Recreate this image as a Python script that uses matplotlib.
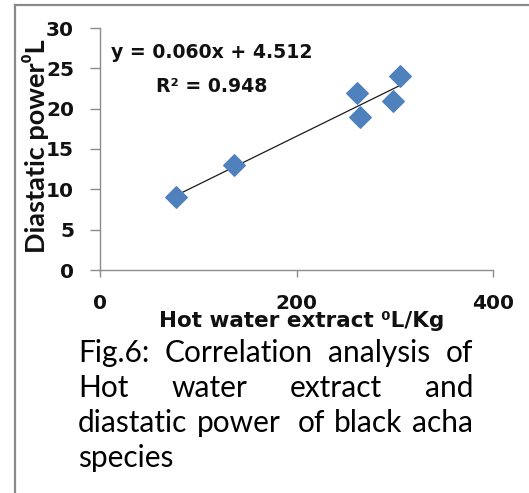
import re
import numpy as np
import matplotlib
matplotlib.use("Agg")
import matplotlib.pyplot as plt
from matplotlib.lines import Line2D

# data
hot_water_extract = [77, 136, 262, 265, 298, 305]
diastatic_power = [9, 13, 22, 19, 21, 24]
x_ticks = [0, 200, 400]
y_ticks = [0, 5, 10, 15, 20, 25, 30]
equation_text = "y = 0.060x + 4.512"
r2_text = "R\u00b2 = 0.948"
x_label = "Hot water extract \u2070L/Kg"
y_label = "Diastatic power\u2070L"
caption_lines = ["Fig.6: Correlation analysis of",
                 "Hot water extract and",
                 "diastatic power  of black acha",
                 "species"]

W, H = 529, 493
fig = plt.figure(figsize=(W / 100, H / 100), dpi=100)
fig.patch.set_facecolor("white")
PT = 72 / 100  # points per pixel

def fx(px):
    return px / W

def fy(py):
    return 1 - py / H

ax = fig.add_axes([fx(100), fy(270), fx(493) - fx(100), fy(28) - fy(270)])
ax.set_xlim(0, 400)
ax.set_ylim(0, 30)
ax.set_xticks(x_ticks)
ax.set_yticks(y_ticks)
for s in ["top", "right"]:
    ax.spines[s].set_visible(False)
for s in ["left", "bottom"]:
    ax.spines[s].set_color("#8c8c8c")
    ax.spines[s].set_linewidth(1.0)
ax.tick_params(axis="y", direction="out", length=10 * PT, width=1.0, color="#8c8c8c",
               pad=16 * PT, labelsize=14.5, labelcolor="#111111")
ax.tick_params(axis="x", direction="out", length=7 * PT, width=1.0, color="#8c8c8c",
               pad=17 * PT, labelsize=14.5, labelcolor="#111111")
for lab in ax.get_xticklabels() + ax.get_yticklabels():
    lab.set_fontfamily("DejaVu Sans")
    lab.set_fontweight("bold")

xs = np.array(hot_water_extract, dtype=float)
ys = np.array(diastatic_power, dtype=float)
coef = np.polyfit(xs, ys, 1)
xl = np.array([xs.min(), xs.max()])
ax.plot(xl, np.polyval(coef, xl), color="#1a1a1a", lw=0.9, zorder=2)
ax.scatter(xs, ys, marker="D", s=120, color="#4F81BD", edgecolors="#4F81BD", zorder=3, clip_on=False)

# equation texts
fig.text(fx(212), fy(53), equation_text, ha="center", va="center", fontsize=13.6,
         fontweight="bold", family="DejaVu Sans", color="#111111")
fig.text(fx(212), fy(86), r2_text, ha="center", va="center", fontsize=13.6,
         fontweight="bold", family="DejaVu Sans", color="#111111")

# axis labels
fig.text(fx(45), fy(146.5), y_label, rotation=90, rotation_mode="anchor",
         ha="center", va="baseline", fontsize=19.5,
         fontweight="bold", family=["Lato", "DejaVu Sans"], color="#111111")
fig.text(fx(302), fy(327), x_label, ha="center", va="baseline", fontsize=15.5,
         fontweight="bold", family=["DejaVu Sans"], color="#111111")

# frame
fig.add_artist(Line2D([fx(15), fx(15)], [fy(5), 0], color="#8a8a8a", lw=1.6))
fig.add_artist(Line2D([fx(15), 1], [fy(5), fy(5)], color="#8a8a8a", lw=1.6))

# justified caption
renderer = fig.canvas.get_renderer()
cap_kw = dict(fontsize=21.5, family=["Lato", "DejaVu Sans"], color="#000000",
              va="baseline", ha="left")
left_px, right_px = 78, 473
line_baselines = [362, 397, 432, 467]

def text_width(s):
    t = fig.text(0, 0, s, **cap_kw)
    w = t.get_window_extent(renderer).width
    t.remove()
    return w

space_w = text_width("a a") - text_width("aa")

for i, (line, ypx) in enumerate(zip(caption_lines, line_baselines)):
    words = line.split()
    if i == len(caption_lines) - 1 or len(words) == 1:
        fig.text(fx(left_px), fy(ypx), line, **cap_kw)
        continue
    space_counts = [len(s) for s in re.findall(r" +", line.strip())]
    widths = [text_width(w) for w in words]
    base = sum(widths) + space_w * sum(space_counts)
    extra = (right_px - left_px - base) / len(space_counts)
    xpos = left_px
    for k, (w, wd) in enumerate(zip(words, widths)):
        fig.text(fx(xpos), fy(ypx), w, **cap_kw)
        if k < len(space_counts):
            xpos += wd + space_w * space_counts[k] + extra

fig.savefig("out.png", dpi=100, facecolor="white")
